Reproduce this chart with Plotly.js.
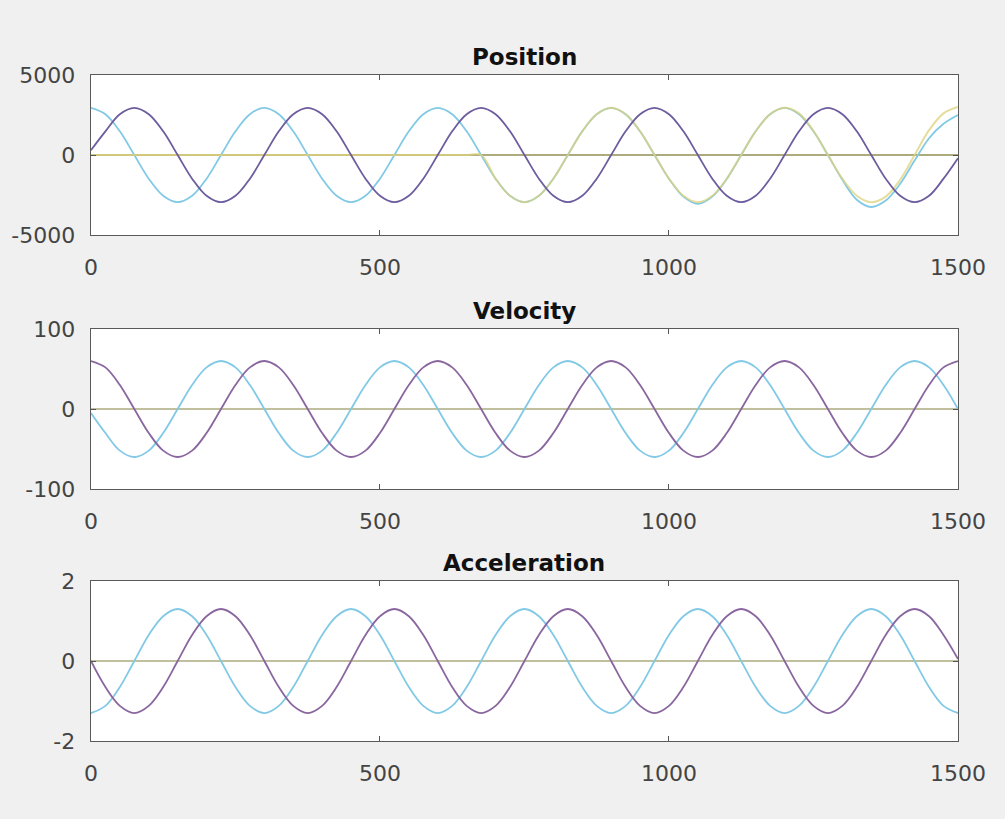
<!DOCTYPE html>
<html>
<head>
<meta charset="utf-8">
<script src="https://cdn.plot.ly/plotly-3.0.1.min.js"></script>
<style>
  html, body { margin: 0; padding: 0; background: #f0f0f0; }
  #chart { width: 1005px; height: 819px; }
</style>
</head>
<body>
<div id="chart"></div>
<script>
// Sample positions (time axis)
const xs = [0,25,50,75,100,125,150,175,200,225,250,275,
  300,325,350,375,400,425,450,475,500,525,550,575,
  600,625,650,675,700,725,750,775,800,825,850,875,
  900,925,950,975,1000,1025,1050,1075,1100,1125,1150,1175,
  1200,1225,1250,1275,1300,1325,1350,1375,1400,1425,1450,1475,
  1500];
const flatX = [0, 1500];
const flatY = [0, 0];

// Position panel
const posCyan = [2950,2550,1480,0,-1480,-2550,-2950,-2550,-1480,0,1480,2550,
  2950,2550,1480,0,-1480,-2550,-2950,-2550,-1480,0,1480,2550,
  2950,2550,1480,0,-1480,-2550,-2950,-2550,-1480,0,1480,2550,
  2950,2550,1480,0,-1480,-2600,-3050,-2600,-1500,0,1480,2550,
  2950,2550,1480,0,-1550,-2800,-3250,-2850,-1800,-350,1050,1950,
  2500];
const posYellow = [0,0,0,0,0,0,0,0,0,0,0,0,
  0,0,0,0,0,0,0,0,0,0,0,0,
  0,0,0,0,-1480,-2550,-2950,-2550,-1480,0,1480,2550,
  2950,2550,1480,0,-1480,-2550,-2950,-2550,-1480,0,1480,2550,
  2950,2600,1500,0,-1480,-2550,-2950,-2600,-1550,0,1550,2600,
  3000];
const posPurple = [300,1480,2550,2950,2550,1480,0,-1480,-2550,-2950,-2550,-1480,
  0,1480,2550,2950,2550,1480,0,-1480,-2550,-2950,-2550,-1480,
  0,1480,2550,2950,2550,1480,0,-1480,-2550,-2950,-2550,-1480,
  0,1480,2550,2950,2550,1480,0,-1480,-2550,-2950,-2550,-1480,
  0,1480,2550,2950,2550,1480,0,-1480,-2550,-2950,-2550,-1480,
  -200];

// Velocity panel
const velCyan = [-5,-30,-52,-60,-52,-30,0,30,52,60,52,30,
  0,-30,-52,-60,-52,-30,0,30,52,60,52,30,
  0,-30,-52,-60,-52,-30,0,30,52,60,52,30,
  0,-30,-52,-60,-52,-30,0,30,52,60,52,30,
  0,-30,-52,-60,-52,-30,0,30,52,60,52,30,
  0];
const velPurple = [60,52,30,0,-30,-52,-60,-52,-30,0,30,52,
  60,52,30,0,-30,-52,-60,-52,-30,0,30,52,
  60,52,30,0,-30,-52,-60,-52,-30,0,30,52,
  60,52,30,0,-30,-52,-60,-52,-30,0,30,52,
  60,52,30,0,-30,-52,-60,-52,-30,0,30,52,
  60];

// Acceleration panel
const accCyan = [-1.3,-1.12,-0.65,0,0.65,1.12,1.3,1.12,0.65,0,-0.65,-1.12,
  -1.3,-1.12,-0.65,0,0.65,1.12,1.3,1.12,0.65,0,-0.65,-1.12,
  -1.3,-1.12,-0.65,0,0.65,1.12,1.3,1.12,0.65,0,-0.65,-1.12,
  -1.3,-1.12,-0.65,0,0.65,1.12,1.3,1.12,0.65,0,-0.65,-1.12,
  -1.3,-1.12,-0.65,0,0.65,1.12,1.3,1.12,0.65,0,-0.65,-1.12,
  -1.3];
const accPurple = [0,-0.65,-1.12,-1.3,-1.12,-0.65,0,0.65,1.12,1.3,1.12,0.65,
  0,-0.65,-1.12,-1.3,-1.12,-0.65,0,0.65,1.12,1.3,1.12,0.65,
  0,-0.65,-1.12,-1.3,-1.12,-0.65,0,0.65,1.12,1.3,1.12,0.65,
  0,-0.65,-1.12,-1.3,-1.12,-0.65,0,0.65,1.12,1.3,1.12,0.65,
  0,-0.65,-1.12,-1.3,-1.12,-0.65,0,0.65,1.12,1.3,1.12,0.65,
  0.05];

const panelTitles = ['Position', 'Velocity', 'Acceleration'];
const xTicks = [0, 500, 1000, 1500];
const posTicks = [-5000, 0, 5000];
const velTicks = [-100, 0, 100];
const accTicks = [-2, 0, 2];

const cCyan = '#82c9e6';
const cPurple = '#8a669f';
const cPurpleDark = '#6d5c9e';
const cOlive = '#acab7e';
const cYellow = '#ddd27c';

function line(x, y, color, w, xa, ya, op) {
  return {x: x, y: y, type: 'scatter', mode: 'lines', xaxis: xa, yaxis: ya,
    line: {color: color, width: w, shape: 'spline', smoothing: 1},
    opacity: op === undefined ? 1 : op, hoverinfo: 'skip', showlegend: false};
}

const data = [
  line(flatX, flatY, cOlive, 2, 'x', 'y'),
  line(xs, posCyan, cCyan, 1.8, 'x', 'y'),
  line(xs, posYellow, cYellow, 2, 'x', 'y', 0.75),
  line(xs, posPurple, cPurpleDark, 1.8, 'x', 'y'),
  line(flatX, flatY, cOlive, 1.5, 'x2', 'y2'),
  line(xs, velCyan, cCyan, 1.8, 'x2', 'y2'),
  line(xs, velPurple, cPurple, 1.8, 'x2', 'y2'),
  line(flatX, flatY, cOlive, 1.5, 'x3', 'y3'),
  line(xs, accCyan, cCyan, 1.8, 'x3', 'y3'),
  line(xs, accPurple, cPurple, 1.8, 'x3', 'y3')
];

const xDom = [0.0905, 0.9532];
const yDoms = [[0.7131, 0.9084], [0.4029, 0.5983], [0.0952, 0.2906]];
const tickFont = {family: 'DejaVu Sans, sans-serif', size: 22, color: '#444444'};

function xAxis(anchor) {
  return {domain: xDom, anchor: anchor, range: [0, 1500], tickvals: xTicks,
    ticktext: xTicks.map(String), ticks: 'inside', ticklen: 5, tickcolor: '#555',
    mirror: 'ticks', showline: true, linecolor: '#5a5a5a', linewidth: 1.3,
    showgrid: false, zeroline: false, tickfont: tickFont, ticklabelstandoff: 12,
    fixedrange: true};
}
function yAxis(anchor, dom, range, ticks) {
  return {domain: dom, anchor: anchor, range: range, tickvals: ticks,
    ticktext: ticks.map(String), ticks: 'inside', ticklen: 5, tickcolor: '#555',
    mirror: 'ticks', showline: true, linecolor: '#5a5a5a', linewidth: 1.3,
    showgrid: false, zeroline: false, tickfont: tickFont, ticklabelstandoff: 10,
    fixedrange: true};
}

const annotations = panelTitles.map((t, i) => ({
  text: t, xref: 'paper', yref: 'paper', x: (xDom[0] + xDom[1]) / 2, y: yDoms[i][1],
  xanchor: 'center', yanchor: 'bottom', yshift: 3, showarrow: false,
  font: {family: 'DejaVu Sans, sans-serif', size: 23, color: '#111', weight: 'bold'}
}));

const layout = {
  width: 1005, height: 819,
  margin: {l: 0, r: 0, t: 0, b: 0},
  paper_bgcolor: '#f0f0f0', plot_bgcolor: '#ffffff',
  showlegend: false,
  xaxis: xAxis('y'), xaxis2: xAxis('y2'), xaxis3: xAxis('y3'),
  yaxis: yAxis('x', yDoms[0], [-5000, 5000], posTicks),
  yaxis2: yAxis('x2', yDoms[1], [-100, 100], velTicks),
  yaxis3: yAxis('x3', yDoms[2], [-2, 2], accTicks),
  annotations: annotations
};

Plotly.newPlot('chart', data, layout, {staticPlot: true, displayModeBar: false});
</script>
</body>
</html>
